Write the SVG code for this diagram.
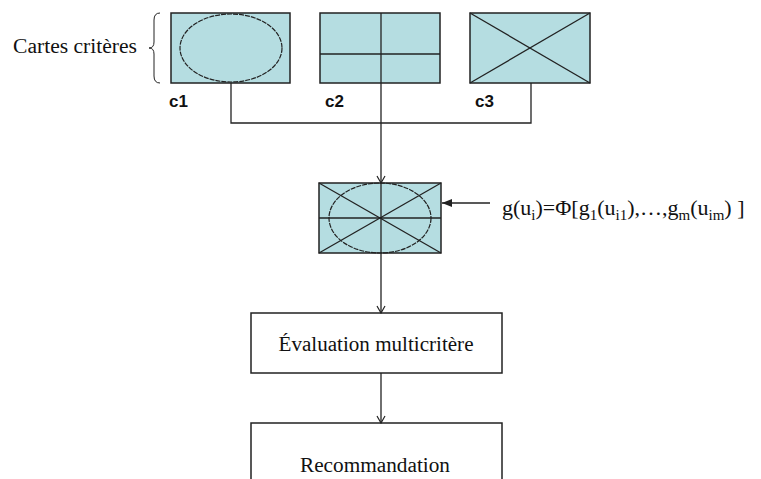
<svg xmlns="http://www.w3.org/2000/svg" width="761" height="479" viewBox="0 0 761 479">
<defs>
<style>
.map{fill:#b5dde1;stroke:#222;stroke-width:1.5}
.ln{fill:none;stroke:#222;stroke-width:1.3}
.thin{fill:none;stroke:#222;stroke-width:1}
.box{fill:#fff;stroke:#222;stroke-width:1.5}
.ell{fill:none;stroke:#222;stroke-width:1.2;stroke-dasharray:5 1}
.serif{font-family:"Liberation Serif","Times New Roman",serif;fill:#111}
.lab{font-family:"Liberation Sans",Arial,sans-serif;font-weight:bold;font-size:17px;fill:#111}
</style>
<marker id="arr" markerWidth="10" markerHeight="10" refX="9" refY="5" orient="auto" markerUnits="userSpaceOnUse">
<path d="M2,1 L9,5 L2,9" fill="none" stroke="#222" stroke-width="1.2"/>
</marker>
<marker id="arrf" markerWidth="12" markerHeight="10" refX="11" refY="5" orient="auto" markerUnits="userSpaceOnUse">
<path d="M1,1 L11,5 L1,9 Z" fill="#222"/>
</marker>
</defs>
<rect width="761" height="479" fill="#fff"/>

<g id="label-cartes">
<text class="serif" x="13" y="53" font-size="20" textLength="124" lengthAdjust="spacingAndGlyphs">Cartes critères</text>
<path class="thin" d="M160,13 Q154,13 154,20 L154,42 Q154,48 149,48 Q154,48 154,54 L154,76 Q154,83 160,83"/>
</g>

<g id="c1">
<rect class="map" x="171" y="13" width="119" height="70"/>
<ellipse class="ell" cx="231" cy="48" rx="51" ry="34"/>
<text class="lab" x="169" y="107">c1</text>
</g>

<g id="c2">
<rect class="map" x="320" y="13" width="120" height="70"/>
<line class="ln" x1="320" y1="54" x2="440" y2="54"/>
<line class="ln" x1="381" y1="13" x2="381" y2="83"/>
<text class="lab" x="325" y="107">c2</text>
</g>

<g id="c3">
<rect class="map" x="470" y="13" width="120" height="70"/>
<line class="ln" x1="470" y1="13" x2="590" y2="83"/>
<line class="ln" x1="590" y1="13" x2="470" y2="83"/>
<text class="lab" x="475" y="107">c3</text>
</g>

<g id="combined">
<rect class="map" x="319" y="183" width="122" height="70"/>
<ellipse class="ell" cx="380" cy="218" rx="51" ry="35"/>
<line class="ln" x1="319" y1="183" x2="441" y2="253"/>
<line class="ln" x1="441" y1="183" x2="319" y2="253"/>
<line class="ln" x1="319" y1="218" x2="441" y2="218"/>
<line class="ln" x1="381" y1="183" x2="381" y2="253"/>
</g>

<g id="formula">
<text class="serif" x="502" y="215" font-size="22">g(u<tspan font-size="15" dy="5">i</tspan><tspan dy="-5">)=Φ[g</tspan><tspan font-size="15" dy="5">1</tspan><tspan dy="-5">(u</tspan><tspan font-size="15" dy="5">i1</tspan><tspan dy="-5">),…,g</tspan><tspan font-size="15" dy="5">m</tspan><tspan dy="-5">(u</tspan><tspan font-size="15" dy="5">im</tspan><tspan dy="-5">) ]</tspan></text>
</g>

<g id="evaluation">
<rect class="box" x="251" y="313" width="251" height="60"/>
<text class="serif" x="376" y="351" font-size="20" text-anchor="middle" textLength="195" lengthAdjust="spacingAndGlyphs">Évaluation multicritère</text>
</g>

<g id="recommandation">
<rect class="box" x="251" y="423" width="251" height="70"/>
<text class="serif" x="375" y="472" font-size="20" text-anchor="middle" textLength="150" lengthAdjust="spacingAndGlyphs">Recommandation</text>
</g>

<g id="connectors">
<polyline class="ln" points="231,83 231,123 531,123 531,83"/>
<line class="ln" x1="381" y1="83" x2="381" y2="183" marker-end="url(#arr)"/>
<line class="ln" x1="490" y1="203" x2="442" y2="203" marker-end="url(#arrf)"/>
<line class="ln" x1="381" y1="253" x2="381" y2="313" marker-end="url(#arr)"/>
<line class="ln" x1="381" y1="373" x2="381" y2="423" marker-end="url(#arr)"/>
</g>
</svg>
